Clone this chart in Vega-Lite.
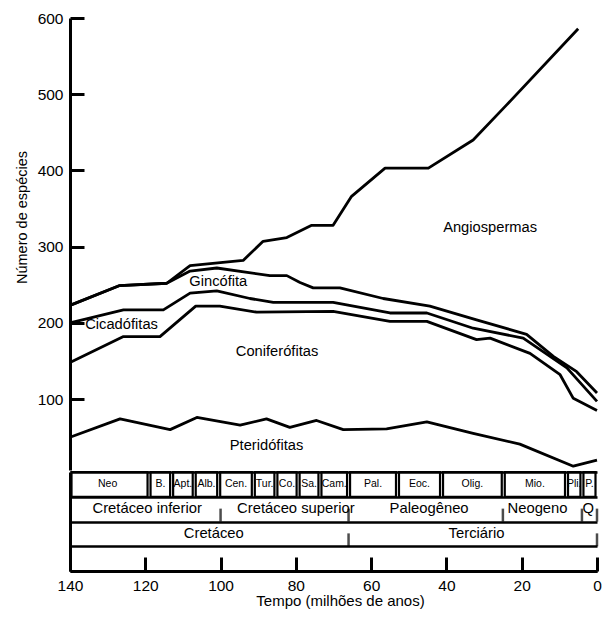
{
  "$schema": "https://vega.github.io/schema/vega-lite/v6.json",
  "padding": {"left": 14, "top": 11, "right": 5, "bottom": 5},
  "spacing": 0,
  "config": {
    "font": "Liberation Sans",
    "view": {"stroke": null},
    "axis": {"domainColor": "black", "tickColor": "black", "labelColor": "black", "titleColor": "black", "titleFontWeight": "normal"}
  },
  "datasets": {
    "curvas": [
      {"grupo": "Angiospermas", "tempo": 140, "especies": 223},
      {"grupo": "Angiospermas", "tempo": 126.8, "especies": 249},
      {"grupo": "Angiospermas", "tempo": 114.3, "especies": 252},
      {"grupo": "Angiospermas", "tempo": 108.1, "especies": 275},
      {"grupo": "Angiospermas", "tempo": 94, "especies": 282},
      {"grupo": "Angiospermas", "tempo": 88.7, "especies": 307},
      {"grupo": "Angiospermas", "tempo": 82.4, "especies": 312},
      {"grupo": "Angiospermas", "tempo": 75.8, "especies": 328},
      {"grupo": "Angiospermas", "tempo": 70.1, "especies": 328},
      {"grupo": "Angiospermas", "tempo": 65.2, "especies": 366},
      {"grupo": "Angiospermas", "tempo": 56.3, "especies": 403},
      {"grupo": "Angiospermas", "tempo": 44.8, "especies": 403},
      {"grupo": "Angiospermas", "tempo": 32.9, "especies": 440},
      {"grupo": "Angiospermas", "tempo": 24, "especies": 486},
      {"grupo": "Angiospermas", "tempo": 5, "especies": 586},
      {"grupo": "Gincófita", "tempo": 140, "especies": 223},
      {"grupo": "Gincófita", "tempo": 126.8, "especies": 249},
      {"grupo": "Gincófita", "tempo": 114.3, "especies": 252},
      {"grupo": "Gincófita", "tempo": 108.1, "especies": 268},
      {"grupo": "Gincófita", "tempo": 101, "especies": 272},
      {"grupo": "Gincófita", "tempo": 86.9, "especies": 262},
      {"grupo": "Gincófita", "tempo": 82.4, "especies": 262},
      {"grupo": "Gincófita", "tempo": 78.9, "especies": 253},
      {"grupo": "Gincófita", "tempo": 75.4, "especies": 246},
      {"grupo": "Gincófita", "tempo": 68.3, "especies": 246},
      {"grupo": "Gincófita", "tempo": 56.8, "especies": 232},
      {"grupo": "Gincófita", "tempo": 44.4, "especies": 222},
      {"grupo": "Gincófita", "tempo": 32, "especies": 204},
      {"grupo": "Gincófita", "tempo": 18.7, "especies": 185},
      {"grupo": "Gincófita", "tempo": 11.6, "especies": 156},
      {"grupo": "Gincófita", "tempo": 5.4, "especies": 136},
      {"grupo": "Gincófita", "tempo": 0, "especies": 108},
      {"grupo": "Cicadófitas", "tempo": 140, "especies": 200},
      {"grupo": "Cicadófitas", "tempo": 125.8, "especies": 217},
      {"grupo": "Cicadófitas", "tempo": 115.2, "especies": 217},
      {"grupo": "Cicadófitas", "tempo": 108.1, "especies": 239},
      {"grupo": "Cicadófitas", "tempo": 101, "especies": 242},
      {"grupo": "Cicadófitas", "tempo": 92.2, "especies": 232},
      {"grupo": "Cicadófitas", "tempo": 86, "especies": 227},
      {"grupo": "Cicadófitas", "tempo": 70.1, "especies": 227},
      {"grupo": "Cicadófitas", "tempo": 55, "especies": 213},
      {"grupo": "Cicadófitas", "tempo": 45.2, "especies": 213},
      {"grupo": "Cicadófitas", "tempo": 32.9, "especies": 193},
      {"grupo": "Cicadófitas", "tempo": 19.6, "especies": 180},
      {"grupo": "Cicadófitas", "tempo": 8, "especies": 141},
      {"grupo": "Cicadófitas", "tempo": 0, "especies": 97},
      {"grupo": "Coniferófitas", "tempo": 140, "especies": 148},
      {"grupo": "Coniferófitas", "tempo": 125.8, "especies": 182},
      {"grupo": "Coniferófitas", "tempo": 116.1, "especies": 182},
      {"grupo": "Coniferófitas", "tempo": 106.6, "especies": 222},
      {"grupo": "Coniferófitas", "tempo": 100.2, "especies": 222},
      {"grupo": "Coniferófitas", "tempo": 90.4, "especies": 214},
      {"grupo": "Coniferófitas", "tempo": 70.1, "especies": 215},
      {"grupo": "Coniferófitas", "tempo": 55, "especies": 202},
      {"grupo": "Coniferófitas", "tempo": 45.2, "especies": 202},
      {"grupo": "Coniferófitas", "tempo": 32, "especies": 178},
      {"grupo": "Coniferófitas", "tempo": 28.4, "especies": 180},
      {"grupo": "Coniferófitas", "tempo": 17.8, "especies": 160},
      {"grupo": "Coniferófitas", "tempo": 9.8, "especies": 132},
      {"grupo": "Coniferófitas", "tempo": 6.3, "especies": 101},
      {"grupo": "Coniferófitas", "tempo": 0, "especies": 85},
      {"grupo": "Pteridófitas", "tempo": 140, "especies": 50},
      {"grupo": "Pteridófitas", "tempo": 126.7, "especies": 74},
      {"grupo": "Pteridófitas", "tempo": 113.4, "especies": 60},
      {"grupo": "Pteridófitas", "tempo": 106.3, "especies": 76},
      {"grupo": "Pteridófitas", "tempo": 94.8, "especies": 66},
      {"grupo": "Pteridófitas", "tempo": 87.8, "especies": 74},
      {"grupo": "Pteridófitas", "tempo": 81.6, "especies": 63},
      {"grupo": "Pteridófitas", "tempo": 74.5, "especies": 72},
      {"grupo": "Pteridófitas", "tempo": 67.4, "especies": 60},
      {"grupo": "Pteridófitas", "tempo": 55.9, "especies": 61},
      {"grupo": "Pteridófitas", "tempo": 45.2, "especies": 70},
      {"grupo": "Pteridófitas", "tempo": 32.9, "especies": 55},
      {"grupo": "Pteridófitas", "tempo": 20.5, "especies": 41},
      {"grupo": "Pteridófitas", "tempo": 6.3, "especies": 12},
      {"grupo": "Pteridófitas", "tempo": 0, "especies": 20}
    ],
    "rotulos": [
      {"texto": "Angiospermas", "tempo": 28.4, "especies": 325},
      {"texto": "Gincófita", "tempo": 100.6, "especies": 254},
      {"texto": "Cicadófitas", "tempo": 126.3, "especies": 197},
      {"texto": "Coniferófitas", "tempo": 85, "especies": 162},
      {"texto": "Pteridófitas", "tempo": 87.8, "especies": 38}
    ],
    "idades": [
      {"nivel": "Idade", "nome": "Neo", "inicio": 140, "fim": 119, "centro": 130},
      {"nivel": "Idade", "nome": "B.", "inicio": 119, "fim": 113, "centro": 116},
      {"nivel": "Idade", "nome": "Apt.", "inicio": 113, "fim": 107, "centro": 110},
      {"nivel": "Idade", "nome": "Alb.", "inicio": 107, "fim": 100.5, "centro": 103.75},
      {"nivel": "Idade", "nome": "Cen.", "inicio": 100.5, "fim": 91.3, "centro": 95.9},
      {"nivel": "Idade", "nome": "Tur.", "inicio": 91.3, "fim": 85.3, "centro": 88.3},
      {"nivel": "Idade", "nome": "Co.", "inicio": 85.3, "fim": 79.4, "centro": 82.35},
      {"nivel": "Idade", "nome": "Sa.", "inicio": 79.4, "fim": 73.6, "centro": 76.5},
      {"nivel": "Idade", "nome": "Cam.", "inicio": 73.6, "fim": 66, "centro": 69.8},
      {"nivel": "Idade", "nome": "Pal.", "inicio": 66, "fim": 53, "centro": 59.5},
      {"nivel": "Idade", "nome": "Eoc.", "inicio": 53, "fim": 41.3, "centro": 47.15},
      {"nivel": "Idade", "nome": "Olig.", "inicio": 41.3, "fim": 24.9, "centro": 33.1},
      {"nivel": "Idade", "nome": "Mio.", "inicio": 24.9, "fim": 8.1, "centro": 16.5},
      {"nivel": "Idade", "nome": "Pli.", "inicio": 8.1, "fim": 4, "centro": 6.05},
      {"nivel": "Idade", "nome": "P.", "inicio": 4, "fim": 0, "centro": 2}
    ],
    "divisoes": [
      {"nivel": "Época", "nome": "Cretáceo inferior", "inicio": 140, "fim": 100, "centro": 119.5},
      {"nivel": "Época", "nome": "Cretáceo superior", "inicio": 100, "fim": 66, "centro": 80},
      {"nivel": "Época", "nome": "Paleogêneo", "inicio": 66, "fim": 25, "centro": 44.6},
      {"nivel": "Época", "nome": "Neogeno", "inicio": 25, "fim": 4, "centro": 15.8},
      {"nivel": "Época", "nome": "Q", "inicio": 4, "fim": 0, "centro": 2.3},
      {"nivel": "Período", "nome": "Cretáceo", "inicio": 140, "fim": 66, "centro": 101.8},
      {"nivel": "Período", "nome": "Terciário", "inicio": 66, "fim": 0, "centro": 32}
    ]
  },
  "vconcat": [
    {
      "width": 527,
      "height": 452,
      "layer": [
        {
          "data": {"name": "curvas"},
          "mark": {"type": "line", "color": "black", "strokeWidth": 2.8, "strokeJoin": "round"},
          "encoding": {
            "x": {"field": "tempo", "type": "quantitative", "scale": {"domain": [0, 140], "reverse": true, "nice": false}, "axis": null},
            "y": {
              "field": "especies", "type": "quantitative",
              "scale": {"domain": [7, 600], "nice": false, "zero": false},
              "axis": {
                "values": [100, 200, 300, 400, 500, 600],
                "title": "Número de espécies",
                "titleFontSize": 14.5,
                "titleX": -48,
                "titleY": 199,
                "titleBaseline": "middle",
                "titleAlign": "center",
                "labelFontSize": 15.5,
                "labelPadding": 21,
                "tickSize": -14,
                "tickWidth": 3,
                "domainWidth": 3,
                "grid": false
              }
            },
            "detail": {"field": "grupo"}
          }
        },
        {
          "data": {"name": "rotulos"},
          "mark": {"type": "text", "fontSize": 14.7, "color": "black", "align": "center", "baseline": "middle"},
          "encoding": {
            "x": {"field": "tempo", "type": "quantitative"},
            "y": {"field": "especies", "type": "quantitative"},
            "text": {"field": "texto"}
          }
        }
      ]
    },
    {
      "width": 527,
      "height": 99,
      "layer": [
        {
          "data": {"name": "idades"},
          "mark": {"type": "rect", "fill": "white", "stroke": "black", "strokeWidth": 2.2, "xOffset": 1.5, "x2Offset": -1.5},
          "encoding": {
            "x": {
              "field": "inicio", "type": "quantitative",
              "scale": {"domain": [0, 140], "reverse": true, "nice": false},
              "axis": {
                "values": [140, 120, 100, 80, 60, 40, 20, 0],
                "title": "Tempo (milhões de anos)",
                "titleFontSize": 15,
                "titleX": 270,
                "titlePadding": 0,
                "labelFontSize": 15.5,
                "labelFlush": false,
                "labelPadding": 21,
                "tickSize": -14,
                "tickWidth": 3,
                "domainWidth": 3,
                "grid": false
              }
            },
            "x2": {"field": "fim"},
            "y": {
              "field": "nivel", "type": "ordinal",
              "scale": {"domain": ["Idade", "Época", "Período", "Eixo"], "paddingInner": 0, "paddingOuter": 0},
              "axis": {"title": null, "labels": false, "ticks": false, "domainWidth": 3, "grid": true, "gridColor": "black", "gridWidth": 2.5, "gridOpacity": 1, "tickBand": "extent"}
            }
          }
        },
        {
          "data": {"name": "idades"},
          "mark": {"type": "text", "fontSize": 10.5, "color": "black", "align": "center", "baseline": "middle"},
          "encoding": {
            "x": {"field": "centro", "type": "quantitative"},
            "y": {"field": "nivel", "type": "ordinal"},
            "text": {"field": "nome"}
          }
        },
        {
          "data": {"name": "divisoes"},
          "mark": {"type": "tick", "color": "black", "thickness": 2.5, "size": 13, "yOffset": 6},
          "encoding": {
            "x": {"field": "fim", "type": "quantitative"},
            "y": {"field": "nivel", "type": "ordinal"}
          }
        },
        {
          "data": {"name": "divisoes"},
          "mark": {"type": "text", "fontSize": 14.8, "color": "black", "align": "center", "baseline": "middle"},
          "encoding": {
            "x": {"field": "centro", "type": "quantitative"},
            "y": {"field": "nivel", "type": "ordinal"},
            "text": {"field": "nome"}
          }
        }
      ]
    }
  ]
}
